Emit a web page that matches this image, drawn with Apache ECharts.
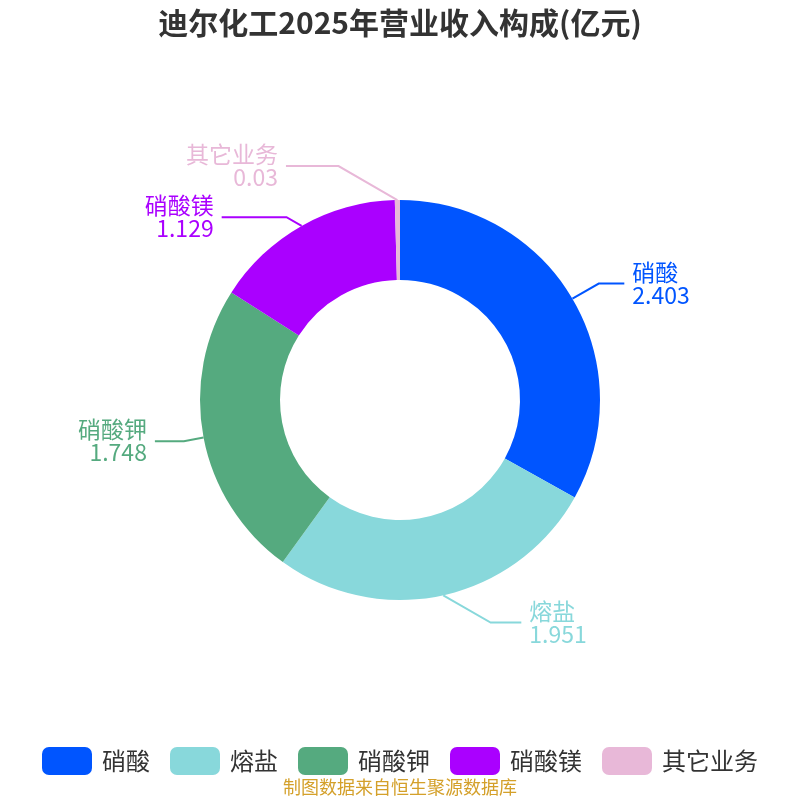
<!DOCTYPE html>
<html><head><meta charset="utf-8">
<script src="https://cdn.jsdelivr.net/npm/echarts@6/dist/echarts.min.js"></script>
<style>html,body{margin:0;padding:0;background:#fff}#c{width:800px;height:800px}</style>
</head><body><div id="c"></div>
<script>
const categories = ['硝酸', '熔盐', '硝酸钾', '硝酸镁', '其它业务'];
const values = [2.403, 1.951, 1.748, 1.129, 0.03];
const colors = ['#0055FF', '#88D8DB', '#55AA7F', '#AA00FF', '#E8B8D8'];
// label line segment lengths per slice (style only)
const lineStyleBySlice = {
  '硝酸': [30, 26], '熔盐': [28, 72], '硝酸钾': [20, 29], '硝酸镁': [10, 75], '其它业务': [34, 111]
};
const chart = echarts.init(document.getElementById('c'));
chart.setOption({
  animation: false,
  title: {
    text: '迪尔化工2025年营业收入构成(亿元)', left: 'center', top: 3,
    textStyle: { fontSize: 30, fontWeight: 'bold', color: '#333', fontFamily: 'Noto Sans CJK SC' }
  },
  graphic: [{
    type: 'text', left: 'center', top: 778,
    style: { text: '制图数据来自恒生聚源数据库', fill: '#D4A02A', fontSize: 18, fontFamily: 'Noto Sans CJK SC' }
  }],
  legend: {
    top: 742, left: 'center', itemWidth: 50, itemHeight: 28, itemGap: 20,
    textStyle: { fontSize: 24, color: '#333', fontFamily: 'Noto Sans CJK SC', padding: [0, 0, 0, 5] },
    data: categories
  },
  series: [{
    type: 'pie', center: ['50%', '50%'], radius: ['30%', '50%'],
    startAngle: 90, clockwise: true,
    data: categories.map((c, i) => ({
      name: c, value: values[i], itemStyle: { color: colors[i] },
      labelLine: { length: lineStyleBySlice[c][0], length2: lineStyleBySlice[c][1] }
    })),
    label: {
      formatter: '{b}\n{c}', fontSize: 23, lineHeight: 23, distanceToLabelLine: 8,
      fontFamily: 'Noto Sans CJK SC', color: 'inherit'
    },
    labelLine: { minTurnAngle: 150, lineStyle: { width: 2 } },
    emphasis: { disabled: true }
  }]
});
</script></body></html>
